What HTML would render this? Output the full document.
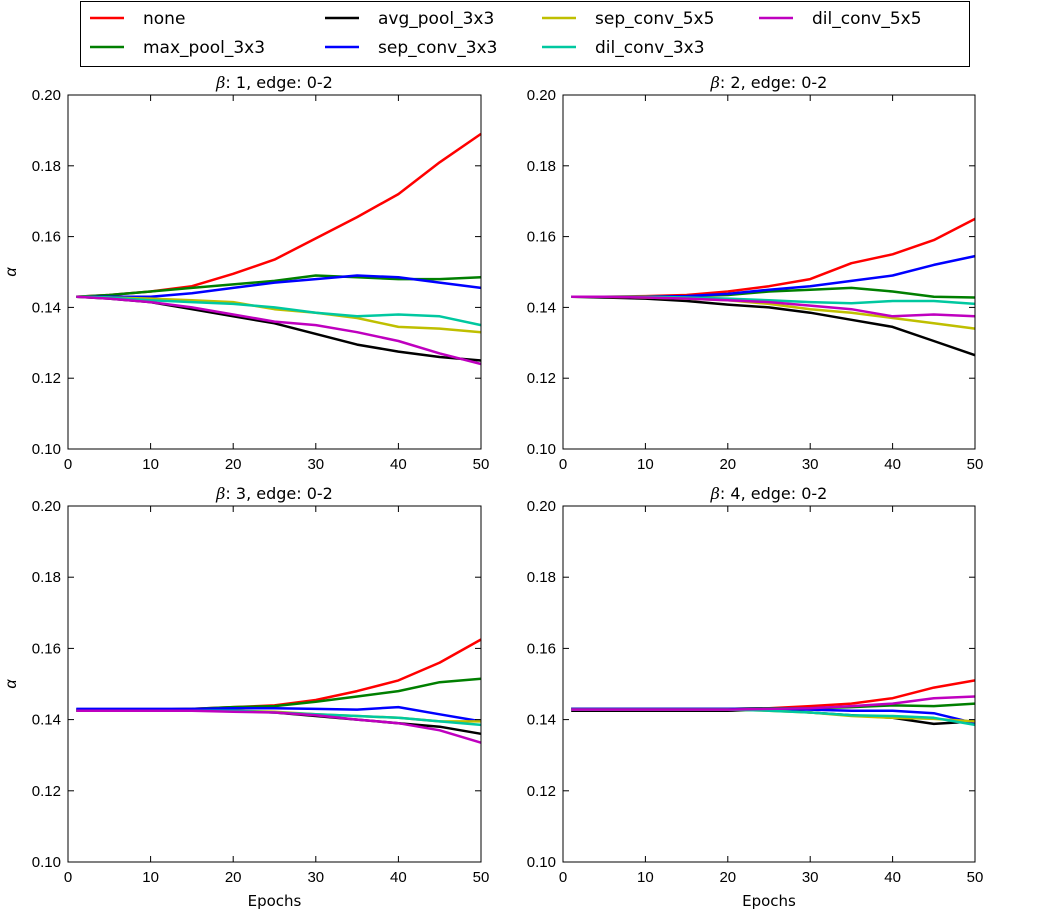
<!DOCTYPE html>
<html><head><meta charset="utf-8"><style>
body{margin:0;background:#fff;font-family:"Liberation Sans",sans-serif;}
svg text{font-family:"Liberation Sans",sans-serif;}
svg text.dv{font-family:"DejaVu Sans",sans-serif;}
</style></head><body>
<svg id="chart" width="1047" height="911" xmlns="http://www.w3.org/2000/svg"></svg>
<script>
const seriesNames=["none","max_pool_3x3","avg_pool_3x3","sep_conv_3x3","sep_conv_5x5","dil_conv_3x3","dil_conv_5x5"];
const seriesColors=["#ff0000","#007f00","#000000","#0000ff","#bfbf00","#00c8a0","#bf00bf"];
const epochs=[1,5,10,15,20,25,30,35,40,45,50];
const yTicks=[0.10,0.12,0.14,0.16,0.18,0.20];
const xTicks=[0,10,20,30,40,50];
const panelTitles=["1","2","3","4"];
const beta1=[
[0.143,0.1435,0.1445,0.146,0.1495,0.1535,0.1595,0.1655,0.172,0.181,0.189],
[0.143,0.1435,0.1445,0.1455,0.1465,0.1475,0.149,0.1485,0.148,0.148,0.1485],
[0.143,0.1425,0.1415,0.1395,0.1375,0.1355,0.1325,0.1295,0.1275,0.126,0.125],
[0.143,0.143,0.143,0.144,0.1455,0.147,0.148,0.149,0.1485,0.147,0.1455],
[0.143,0.1428,0.1425,0.142,0.1415,0.1395,0.1385,0.137,0.1345,0.134,0.133],
[0.143,0.1428,0.142,0.1415,0.141,0.140,0.1385,0.1375,0.138,0.1375,0.135],
[0.143,0.1425,0.1415,0.140,0.138,0.136,0.135,0.133,0.1305,0.127,0.124]];
const beta2=[
[0.143,0.143,0.1432,0.1435,0.1445,0.146,0.148,0.1525,0.155,0.159,0.165],
[0.143,0.143,0.143,0.1432,0.1435,0.1445,0.145,0.1455,0.1445,0.143,0.1428],
[0.143,0.1428,0.1425,0.1418,0.1408,0.140,0.1385,0.1365,0.1345,0.1305,0.1265],
[0.143,0.143,0.143,0.1432,0.1438,0.145,0.146,0.1475,0.149,0.152,0.1545],
[0.143,0.143,0.1428,0.1425,0.142,0.141,0.1395,0.1385,0.137,0.1355,0.134],
[0.143,0.143,0.143,0.1428,0.1425,0.142,0.1415,0.1412,0.1418,0.1418,0.141],
[0.143,0.143,0.1428,0.1425,0.142,0.1415,0.1405,0.1395,0.1375,0.138,0.1375]];
const beta3=[
[0.1428,0.1428,0.1428,0.143,0.1435,0.144,0.1455,0.148,0.151,0.156,0.1625],
[0.1428,0.1428,0.1428,0.143,0.1435,0.1438,0.145,0.1465,0.148,0.1505,0.1515],
[0.1425,0.1425,0.1425,0.1425,0.1425,0.142,0.141,0.140,0.139,0.138,0.136],
[0.143,0.143,0.143,0.143,0.1432,0.1432,0.143,0.1428,0.1435,0.1415,0.1395],
[0.1425,0.1425,0.1425,0.1425,0.1425,0.1422,0.1415,0.141,0.1405,0.1395,0.1395],
[0.1425,0.1425,0.1425,0.1425,0.1425,0.142,0.1415,0.141,0.1405,0.1395,0.1385],
[0.1425,0.1425,0.1425,0.1425,0.1422,0.142,0.1412,0.140,0.139,0.137,0.1335]];
const beta4=[
[0.143,0.143,0.143,0.143,0.143,0.1432,0.1438,0.1445,0.146,0.149,0.151],
[0.143,0.143,0.143,0.143,0.143,0.1432,0.1432,0.1435,0.144,0.1438,0.1445],
[0.1425,0.1425,0.1425,0.1425,0.1425,0.1428,0.142,0.1412,0.1405,0.1388,0.1395],
[0.143,0.143,0.143,0.143,0.143,0.143,0.1428,0.1425,0.1425,0.1418,0.139],
[0.1428,0.1428,0.1428,0.1428,0.1428,0.1425,0.142,0.141,0.1405,0.1402,0.1395],
[0.1428,0.1428,0.1428,0.1428,0.1428,0.1425,0.142,0.1412,0.141,0.1405,0.1385],
[0.1428,0.1428,0.1428,0.1428,0.1428,0.143,0.1432,0.1438,0.1445,0.146,0.1465]];
const panelData=[beta1,beta2,beta3,beta4];
const panels=[{x0:68,x1:481,y0:95,y1:449},{x0:563,x1:975,y0:95,y1:449},{x0:68,x1:481,y0:506,y1:862},{x0:563,x1:975,y0:506,y1:862}];
const NS="http://www.w3.org/2000/svg";
const svg=document.getElementById('chart');
function mk(tag,attrs,parent){const e=document.createElementNS(NS,tag);for(const k in attrs)e.setAttribute(k,attrs[k]);(parent||svg).appendChild(e);return e;}
panels.forEach((p,pi)=>{
  const g=mk('g',{});
  
  
  const sx=v=>p.x0+(v/50)*(p.x1-p.x0);
  const sy=v=>p.y1-((v-0.10)/0.10)*(p.y1-p.y0);
  panelData[pi].forEach((vals,si)=>{
    const d=vals.map((v,i)=>(i?'L':'M')+sx(epochs[i]).toFixed(1)+','+sy(v).toFixed(1)).join(' ');
    const path=mk('path',{d:d,fill:'none',stroke:seriesColors[si],'stroke-width':2.5,'stroke-linejoin':'round'},g);
    
    
  });
  mk('rect',{x:p.x0,y:p.y0,width:p.x1-p.x0,height:p.y1-p.y0,fill:'none',stroke:'#000','stroke-width':1},g);
  yTicks.forEach(t=>{
    const y=sy(t);
    mk('line',{x1:p.x0,x2:p.x0+6,y1:y,y2:y,stroke:'#000'},g);
    mk('line',{x1:p.x1,x2:p.x1-6,y1:y,y2:y,stroke:'#000'},g);
    const tx=mk('text',{x:p.x0-7,y:y+5,'text-anchor':'end','font-size':15},g);
    tx.textContent=t.toFixed(2);
    
    
  });
  xTicks.forEach(t=>{
    const x=sx(t);
    mk('line',{x1:x,x2:x,y1:p.y1,y2:p.y1-6,stroke:'#000'},g);
    mk('line',{x1:x,x2:x,y1:p.y0,y2:p.y0+6,stroke:'#000'},g);
    const tx=mk('text',{x:x,y:p.y1+20,'text-anchor':'middle','font-size':15},g);
    tx.textContent=t;
    
    
  });
  const title=mk('text',{x:(p.x0+p.x1)/2,y:p.y0-7,'text-anchor':'middle','font-size':16,'class':'dv'},g);
  title.innerHTML='<tspan font-family="DejaVu Serif" font-style="italic">β</tspan>: '+panelTitles[pi]+', edge: 0-2';
  
  
  if(pi%2===0){
    const yl=mk('text',{x:16,y:(p.y0+p.y1)/2,'text-anchor':'middle','font-size':16,'font-family':'Liberation Serif','font-style':'italic',transform:'rotate(-90 16 '+((p.y0+p.y1)/2)+')'},g);
    yl.textContent='α';
    
    
  }
  if(pi>=2){
    const xl=mk('text',{x:(p.x0+p.x1)/2,y:p.y1+44,'text-anchor':'middle','font-size':15,'class':'dv'},g);
    xl.textContent='Epochs';
    
    
  }
});
const lg=mk('g',{});


mk('rect',{x:80.5,y:1.5,width:889,height:65,fill:'#fff',stroke:'#000'},lg);
seriesNames.forEach((nm,si)=>{
  const x=[90,90,325,325,542,542,759][si], y=[18,47,18,47,18,47,18][si];
  const e=mk('g',{},lg);
  
  
  mk('line',{x1:x,x2:x+34,y1:y,y2:y,stroke:seriesColors[si],'stroke-width':2.5},e);
  const t=mk('text',{x:x+53,y:y+6,'font-size':17,'class':'dv'},e);
  t.textContent=nm;
});
</script>
</body></html>
